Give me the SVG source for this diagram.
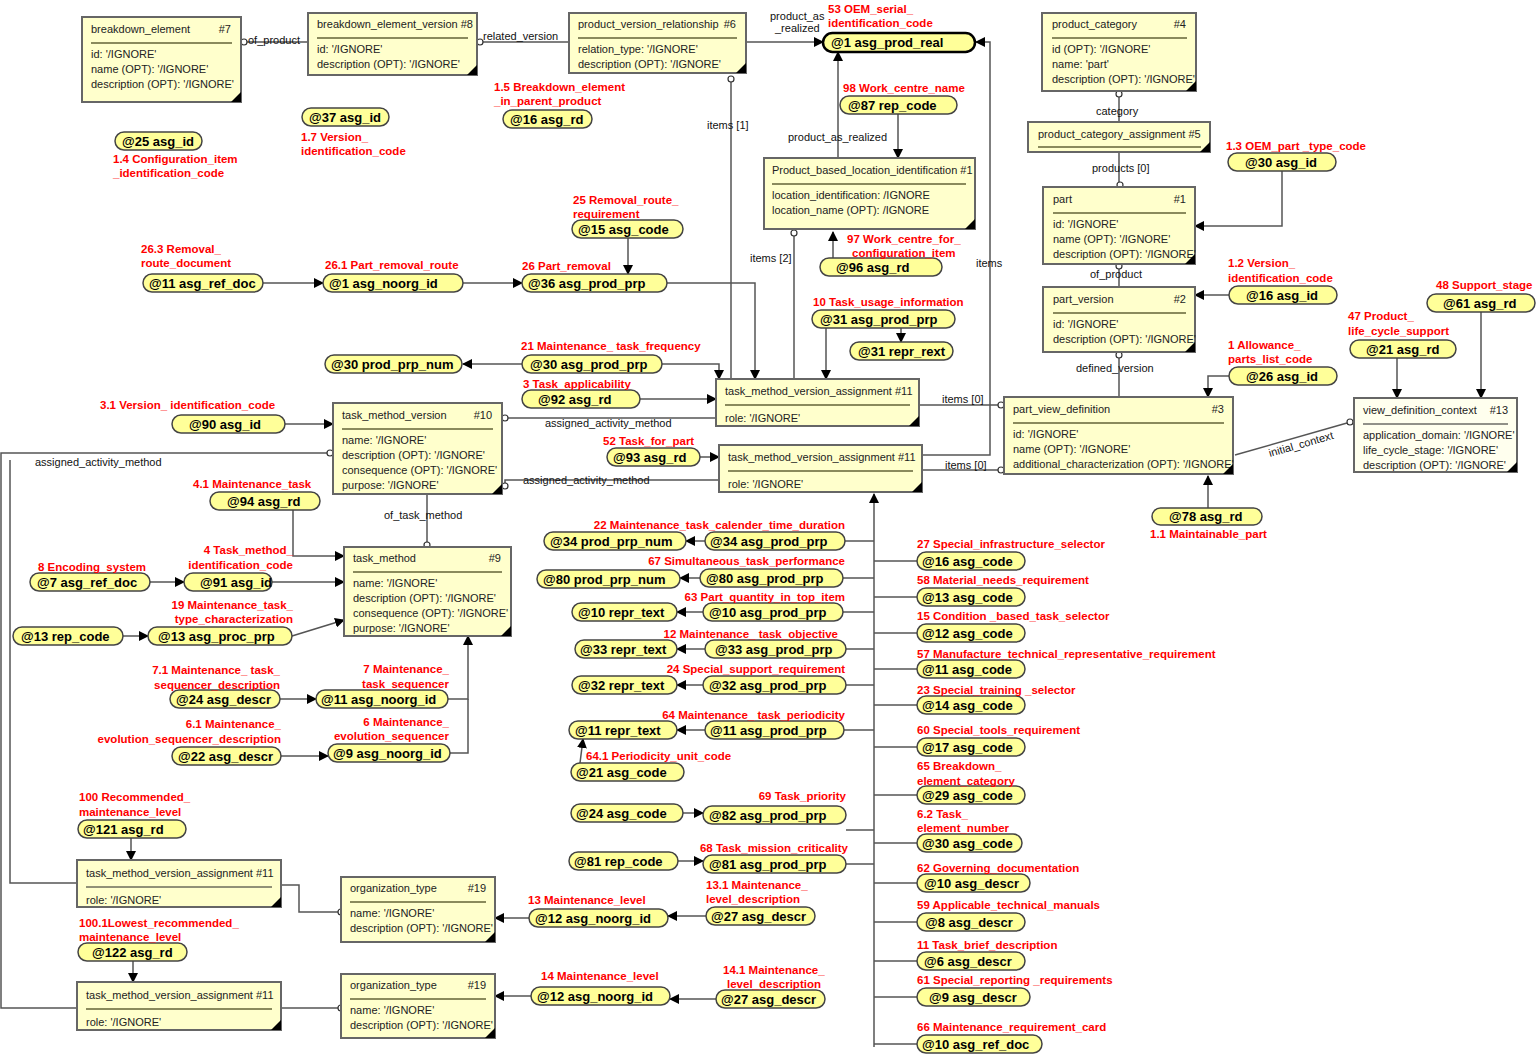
<svg xmlns="http://www.w3.org/2000/svg" width="1538" height="1055" viewBox="0 0 1538 1055">
<style>
.b rect{fill:#ffffcc;stroke:#666;stroke-width:2}
.b text{font:11px "Liberation Sans",Arial,sans-serif;fill:#222}
.b line{stroke:#8a8a5c;stroke-width:2}
.b polygon{fill:#000}
.p rect{fill:#ffff99;stroke:#444;stroke-width:1.5}
.p text{font:bold 13px "Liberation Sans",Arial,sans-serif;fill:#000}
.r{font:bold 11.5px "Liberation Sans",Arial,sans-serif;fill:#ff0000}
.e{text-anchor:end}
.c path{fill:none;stroke:#555;stroke-width:1.5}
.c .a{marker-end:url(#ar)}
.c circle{fill:#fff;stroke:#333;stroke-width:1.2}
.l{font:11px "Liberation Sans",Arial,sans-serif;fill:#111}
</style>
<defs>
<marker id="ar" markerUnits="userSpaceOnUse" markerWidth="10" markerHeight="10" refX="9" refY="5" orient="auto"><path d="M0,0 L10,5 L0,10 Z" fill="#000"/></marker>
</defs>
<rect width="1538" height="1055" fill="#fff"/>

<g class="c" id="connectors">
<path d="M244,42 H308"/><circle cx="244" cy="42" r="3"/>
<path d="M480,42 H569"/><circle cx="480" cy="42" r="3"/>
<path class="a" d="M746,42 H823"/>
<path class="a" d="M922,455 H990 V42 H976"/>
<path d="M731,79 V379"/><circle cx="731" cy="79" r="3"/>
<path class="a" d="M838,158 V52"/>
<path class="a" d="M898,114 V158"/>
<path d="M794,233 V379"/><circle cx="794" cy="233" r="3"/>
<path class="a" d="M833,258 V232"/>
<path class="a" d="M628,238 V274"/>
<path class="a" d="M263,283 H323"/>
<path class="a" d="M463,283 H522"/>
<path class="a" d="M667,283 H755 V379"/>
<path class="a" d="M522,364 H463"/>
<path class="a" d="M662,364 H719 V379"/>
<path class="a" d="M640,399 H716"/>
<path d="M716,418 H505"/><circle cx="505" cy="418" r="3"/>
<path class="a" d="M285,424 H333"/>
<path class="a" d="M700,457 H719"/>
<path d="M719,480 H505 V486"/><circle cx="505" cy="486" r="3"/>
<path d="M919,405 H1001"/><circle cx="1001" cy="405" r="3"/>
<path d="M922,470 H1001"/><circle cx="1001" cy="470" r="3"/>
<path class="a" d="M826,328 V379"/>
<path class="a" d="M901,328 V342"/>
<path d="M330,453 H1 V1008 H77"/><circle cx="330" cy="453" r="3"/>
<path d="M10,460 V883 H77"/>
<path d="M427,494 V545"/><circle cx="427" cy="545" r="3"/>
<path class="a" d="M293,510 V556 H344"/>
<path class="a" d="M150,582 H184"/>
<path class="a" d="M272,582 H344"/>
<path class="a" d="M123,636 H148"/>
<path class="a" d="M292,636 L344,620"/>
<path class="a" d="M448,699 H468 V636"/>
<path d="M450,753 H468 V699"/>
<path class="a" d="M280,699 H316"/>
<path class="a" d="M281,756 H328"/>
<path class="a" d="M131,838 V860"/>
<path class="a" d="M133,961 V982"/>
<path d="M281,885 H299 V912 H338"/><circle cx="341" cy="912" r="3"/>
<path d="M281,1008 H338"/><circle cx="341" cy="1008" r="3"/>
<path class="a" d="M529,918 H495"/>
<path class="a" d="M706,916 H668"/>
<path class="a" d="M531,996 H495"/>
<path class="a" d="M716,999 H670"/>
<path d="M1119,97 V122"/><circle cx="1119" cy="94" r="3"/>
<path d="M1119,152 V182"/><circle cx="1120" cy="185" r="3"/>
<path class="a" d="M1282,171 V226 H1195"/>
<path d="M1119,269 V287"/><circle cx="1119" cy="266" r="3"/>
<path class="a" d="M1229,295 H1195"/>
<path d="M1119,358 V397"/><circle cx="1119" cy="355" r="3"/>
<path class="a" d="M1229,376 H1208 V397"/>
<path class="a" d="M1208,508 V476"/>
<path d="M1235,455 L1347,423"/><circle cx="1350" cy="422" r="3"/>
<path class="a" d="M1397,358 V398"/>
<path class="a" d="M1481,312 V398"/>
<path class="a" d="M874,1047 V494"/>
<path d="M845,541 H874 M843,578 H874 M843,612 H874 M846,649 H874 M846,685 H874 M844,730 H874 M846,830 H874 M846,864 H874"/>
<path d="M874,561 H917 M874,597 H917 M874,633 H917 M874,669 H917 M874,705 H917 M874,747 H917 M874,795 H917 M874,843 H917 M874,883 H917 M874,922 H917 M874,961 H917 M874,997 H917 M874,1044 H917"/>
<path class="a" d="M705,541 H686"/>
<path class="a" d="M700,578 H680"/>
<path class="a" d="M703,612 H677"/>
<path class="a" d="M705,649 H677"/>
<path class="a" d="M703,685 H677"/>
<path class="a" d="M705,730 H677"/>
<path class="a" d="M580,763 L583,739"/>
<path class="a" d="M683,813 H703"/>
<path class="a" d="M678,861 H703"/>
</g>

<g id="edge-labels">
<text class="l" x="248" y="44">of_product</text>
<text class="l" x="483" y="40">related_version</text>
<text class="l" x="770" y="20">product_as</text>
<text class="l" x="775" y="32">_realized</text>
<text class="l" x="707" y="129">items [1]</text>
<text class="l" x="788" y="141">product_as_realized</text>
<text class="l" x="750" y="262">items [2]</text>
<text class="l" x="976" y="267">items</text>
<text class="l" x="1096" y="115">category</text>
<text class="l" x="1092" y="172">products [0]</text>
<text class="l" x="1090" y="278">of_product</text>
<text class="l" x="1076" y="372">defined_version</text>
<text class="l" x="942" y="403">items [0]</text>
<text class="l" x="945" y="469">items [0]</text>
<text class="l" x="545" y="427">assigned_activity_method</text>
<text class="l" x="523" y="484">assigned_activity_method</text>
<text class="l" x="35" y="466">assigned_activity_method</text>
<text class="l" x="384" y="519">of_task_method</text>
<text class="l" transform="translate(1270,457) rotate(-16)">initial_context</text>
</g>

<g class="b" id="n7"><rect x="82" y="17" width="159" height="85"/><text x="91" y="33">breakdown_element</text><text x="231" y="33" class="e" text-anchor="end">#7</text><line x1="91" y1="43" x2="232" y2="43"/><text x="91" y="58">id: '/IGNORE'</text><text x="91" y="73">name (OPT): '/IGNORE'</text><text x="91" y="88">description (OPT): '/IGNORE'</text><polygon points="241,92 241,102 231,102"/></g>
<g class="b" id="n8"><rect x="308" y="13" width="169" height="62"/><text x="317" y="28">breakdown_element_version #8</text><line x1="317" y1="38" x2="468" y2="38"/><text x="317" y="53">id: '/IGNORE'</text><text x="317" y="68">description (OPT): '/IGNORE'</text><polygon points="477,65 477,75 467,75"/></g>
<g class="b" id="n6"><rect x="569" y="13" width="177" height="60"/><text x="578" y="28">product_version_relationship</text><text x="736" y="28" text-anchor="end">#6</text><line x1="578" y1="38" x2="737" y2="38"/><text x="578" y="53">relation_type: '/IGNORE'</text><text x="578" y="68">description (OPT): '/IGNORE'</text><polygon points="746,63 746,73 736,73"/></g>
<g class="b" id="n4"><rect x="1042" y="13" width="154" height="78"/><text x="1052" y="28">product_category</text><text x="1186" y="28" text-anchor="end">#4</text><line x1="1052" y1="38" x2="1187" y2="38"/><text x="1052" y="53">id (OPT): '/IGNORE'</text><text x="1052" y="68">name: 'part'</text><text x="1052" y="83">description (OPT): '/IGNORE'</text><polygon points="1196,81 1196,91 1186,91"/></g>
<g class="b" id="n5"><rect x="1028" y="122" width="182" height="30"/><text x="1038" y="138">product_category_assignment  #5</text><line x1="1038" y1="147" x2="1201" y2="147"/><polygon points="1210,142 1210,152 1200,152"/></g>
<g class="b" id="n1"><rect x="1043" y="187" width="152" height="77"/><text x="1053" y="203">part</text><text x="1186" y="203" text-anchor="end">#1</text><line x1="1053" y1="213" x2="1186" y2="213"/><text x="1053" y="228">id: '/IGNORE'</text><text x="1053" y="243">name (OPT): '/IGNORE'</text><text x="1053" y="258">description (OPT): '/IGNORE'</text><polygon points="1195,254 1195,264 1185,264"/></g>
<g class="b" id="n2"><rect x="1043" y="287" width="152" height="65"/><text x="1053" y="303">part_version</text><text x="1186" y="303" text-anchor="end">#2</text><line x1="1053" y1="313" x2="1186" y2="313"/><text x="1053" y="328">id: '/IGNORE'</text><text x="1053" y="343">description (OPT): '/IGNORE'</text><polygon points="1195,342 1195,352 1185,352"/></g>
<g class="b" id="npbl"><rect x="764" y="158" width="211" height="71"/><text x="772" y="174">Product_based_location_identification #1</text><line x1="772" y1="184" x2="966" y2="184"/><text x="772" y="199">location_identification: /IGNORE</text><text x="772" y="214">location_name (OPT): /IGNORE</text><polygon points="975,219 975,229 965,229"/></g>
<g class="b" id="n11a"><rect x="716" y="379" width="203" height="47"/><text x="725" y="395">task_method_version_assignment #11</text><line x1="725" y1="405" x2="910" y2="405"/><text x="725" y="422">role: '/IGNORE'</text><polygon points="919,416 919,426 909,426"/></g>
<g class="b" id="n11b"><rect x="719" y="445" width="203" height="47"/><text x="728" y="461">task_method_version_assignment #11</text><line x1="728" y1="471" x2="913" y2="471"/><text x="728" y="488">role: '/IGNORE'</text><polygon points="922,482 922,492 912,492"/></g>
<g class="b" id="n10"><rect x="333" y="403" width="169" height="91"/><text x="342" y="419">task_method_version</text><text x="492" y="419" text-anchor="end">#10</text><line x1="342" y1="429" x2="493" y2="429"/><text x="342" y="444">name: '/IGNORE'</text><text x="342" y="459">description (OPT): '/IGNORE'</text><text x="342" y="474">consequence (OPT): '/IGNORE'</text><text x="342" y="489">purpose: '/IGNORE'</text><polygon points="502,484 502,494 492,494"/></g>
<g class="b" id="n3"><rect x="1004" y="397" width="229" height="77"/><text x="1013" y="413">part_view_definition</text><text x="1224" y="413" text-anchor="end">#3</text><line x1="1013" y1="423" x2="1224" y2="423"/><text x="1013" y="438">id: '/IGNORE'</text><text x="1013" y="453">name (OPT): '/IGNORE'</text><text x="1013" y="468">additional_characterization (OPT): '/IGNORE'</text><polygon points="1233,464 1233,474 1223,474"/></g>
<g class="b" id="n13"><rect x="1354" y="398" width="163" height="74" style="fill:#ffffee"/><text x="1363" y="414">view_definition_context</text><text x="1508" y="414" text-anchor="end">#13</text><line x1="1363" y1="424" x2="1508" y2="424" style="stroke:#222;stroke-width:1"/><text x="1363" y="439">application_domain: '/IGNORE'</text><text x="1363" y="454">life_cycle_stage: '/IGNORE'</text><text x="1363" y="469">description (OPT): '/IGNORE'</text><polygon points="1517,462 1517,472 1507,472"/></g>
<g class="b" id="n9"><rect x="344" y="547" width="167" height="89"/><text x="353" y="562">task_method</text><text x="501" y="562" text-anchor="end">#9</text><line x1="353" y1="572" x2="502" y2="572"/><text x="353" y="587">name: '/IGNORE'</text><text x="353" y="602">description (OPT): '/IGNORE'</text><text x="353" y="617">consequence (OPT): '/IGNORE'</text><text x="353" y="632">purpose: '/IGNORE'</text><polygon points="511,626 511,636 501,636"/></g>
<g class="b" id="n11c"><rect x="77" y="860" width="204" height="47"/><text x="86" y="877">task_method_version_assignment #11</text><line x1="86" y1="887" x2="272" y2="887" style="stroke:#222;stroke-width:1"/><text x="86" y="904">role: '/IGNORE'</text><polygon points="281,897 281,907 271,907"/></g>
<g class="b" id="n19a"><rect x="341" y="877" width="154" height="65"/><text x="350" y="892">organization_type</text><text x="486" y="892" text-anchor="end">#19</text><line x1="350" y1="902" x2="486" y2="902"/><text x="350" y="917">name: '/IGNORE'</text><text x="350" y="932">description (OPT): '/IGNORE'</text><polygon points="495,932 495,942 485,942"/></g>
<g class="b" id="n11d"><rect x="77" y="982" width="204" height="48"/><text x="86" y="999">task_method_version_assignment #11</text><line x1="86" y1="1009" x2="272" y2="1009"/><text x="86" y="1026">role: '/IGNORE'</text><polygon points="281,1020 281,1030 271,1030"/></g>
<g class="b" id="n19b"><rect x="341" y="974" width="154" height="64"/><text x="350" y="989">organization_type</text><text x="486" y="989" text-anchor="end">#19</text><line x1="350" y1="999" x2="486" y2="999"/><text x="350" y="1014">name: '/IGNORE'</text><text x="350" y="1029">description (OPT): '/IGNORE'</text><polygon points="495,1028 495,1038 485,1038"/></g>

<g class="p" id="p1"><rect x="115" y="132" width="87" height="18" rx="9"/><text x="122" y="146">@25 asg_id</text></g>
<g class="p" id="p2"><rect x="302" y="108" width="87" height="18" rx="9"/><text x="309" y="122">@37 asg_id</text></g>
<g class="p" id="p3"><rect x="503" y="110" width="89" height="18" rx="9"/><text x="510" y="124">@16 asg_rd</text></g>
<g class="p" id="p4"><rect x="823" y="33" width="152" height="19" rx="9.5" style="stroke-width:2.5;stroke:#000"/><text x="831" y="47">@1 asg_prod_real</text></g>
<g class="p" id="p5"><rect x="840" y="96" width="117" height="18" rx="9"/><text x="848" y="110">@87 rep_code</text></g>
<g class="p" id="p6"><rect x="820" y="258" width="122" height="18" rx="9"/><text x="836" y="272">@96 asg_rd</text></g>
<g class="p" id="p7"><rect x="1228" y="153" width="108" height="18" rx="9"/><text x="1245" y="167">@30 asg_id</text></g>
<g class="p" id="p8"><rect x="1229" y="286" width="108" height="18" rx="9"/><text x="1246" y="300">@16 asg_id</text></g>
<g class="p" id="p9"><rect x="1427" y="294" width="108" height="18" rx="9"/><text x="1443" y="308">@61 asg_rd</text></g>
<g class="p" id="p10"><rect x="1350" y="340" width="106" height="18" rx="9"/><text x="1366" y="354">@21 asg_rd</text></g>
<g class="p" id="p11"><rect x="1229" y="367" width="108" height="18" rx="9"/><text x="1246" y="381">@26 asg_id</text></g>
<g class="p" id="p12"><rect x="1152" y="508" width="110" height="17" rx="8.5"/><text x="1169" y="521">@78 asg_rd</text></g>
<g class="p" id="p13"><rect x="812" y="310" width="143" height="18" rx="9"/><text x="820" y="324">@31 asg_prod_prp</text></g>
<g class="p" id="p14"><rect x="850" y="342" width="103" height="18" rx="9"/><text x="858" y="356">@31 repr_rext</text></g>
<g class="p" id="p15"><rect x="572" y="220" width="111" height="18" rx="9"/><text x="578" y="234">@15 asg_code</text></g>
<g class="p" id="p16"><rect x="143" y="274" width="120" height="18" rx="9"/><text x="149" y="288">@11 asg_ref_doc</text></g>
<g class="p" id="p17"><rect x="323" y="274" width="140" height="18" rx="9"/><text x="329" y="288">@1 asg_noorg_id</text></g>
<g class="p" id="p18"><rect x="522" y="274" width="145" height="18" rx="9"/><text x="528" y="288">@36 asg_prod_prp</text></g>
<g class="p" id="p19"><rect x="325" y="355" width="137" height="18" rx="9"/><text x="331" y="369">@30 prod_prp_num</text></g>
<g class="p" id="p20"><rect x="522" y="355" width="140" height="18" rx="9"/><text x="530" y="369">@30 asg_prod_prp</text></g>
<g class="p" id="p21"><rect x="522" y="390" width="118" height="18" rx="9"/><text x="538" y="404">@92 asg_rd</text></g>
<g class="p" id="p22"><rect x="172" y="415" width="113" height="18" rx="9"/><text x="189" y="429">@90 asg_id</text></g>
<g class="p" id="p23"><rect x="607" y="448" width="93" height="18" rx="9"/><text x="613" y="462">@93 asg_rd</text></g>
<g class="p" id="p24"><rect x="210" y="492" width="110" height="18" rx="9"/><text x="227" y="506">@94 asg_rd</text></g>
<g class="p" id="p25"><rect x="30" y="573" width="120" height="18" rx="9"/><text x="37" y="587">@7 asg_ref_doc</text></g>
<g class="p" id="p26"><rect x="184" y="573" width="88" height="18" rx="9"/><text x="200" y="587">@91 asg_id</text></g>
<g class="p" id="p27"><rect x="13" y="627" width="110" height="18" rx="9"/><text x="21" y="641">@13 rep_code</text></g>
<g class="p" id="p28"><rect x="148" y="627" width="144" height="18" rx="9"/><text x="158" y="641">@13 asg_proc_prp</text></g>
<g class="p" id="p29"><rect x="170" y="690" width="110" height="18" rx="9"/><text x="176" y="704">@24 asg_descr</text></g>
<g class="p" id="p30"><rect x="316" y="690" width="132" height="18" rx="9"/><text x="321" y="704">@11 asg_noorg_id</text></g>
<g class="p" id="p31"><rect x="172" y="747" width="109" height="18" rx="9"/><text x="178" y="761">@22 asg_descr</text></g>
<g class="p" id="p32"><rect x="328" y="744" width="122" height="18" rx="9"/><text x="333" y="758">@9 asg_noorg_id</text></g>
<g class="p" id="p33"><rect x="78" y="820" width="108" height="18" rx="9"/><text x="83" y="834">@121 asg_rd</text></g>
<g class="p" id="p34"><rect x="78" y="943" width="109" height="18" rx="9"/><text x="92" y="957">@122 asg_rd</text></g>
<g class="p" id="p35"><rect x="529" y="909" width="139" height="18" rx="9"/><text x="535" y="923">@12 asg_noorg_id</text></g>
<g class="p" id="p36"><rect x="706" y="907" width="109" height="18" rx="9"/><text x="711" y="921">@27 asg_descr</text></g>
<g class="p" id="p37"><rect x="531" y="987" width="139" height="18" rx="9"/><text x="537" y="1001">@12 asg_noorg_id</text></g>
<g class="p" id="p38"><rect x="716" y="990" width="109" height="18" rx="9"/><text x="721" y="1004">@27 asg_descr</text></g>
<g class="p" id="p39"><rect x="544" y="532" width="142" height="18" rx="9"/><text x="550" y="546">@34 prod_prp_num</text></g>
<g class="p" id="p40"><rect x="705" y="532" width="140" height="18" rx="9"/><text x="710" y="546">@34 asg_prod_prp</text></g>
<g class="p" id="p41"><rect x="537" y="570" width="143" height="18" rx="9"/><text x="543" y="584">@80 prod_prp_num</text></g>
<g class="p" id="p42"><rect x="700" y="569" width="143" height="18" rx="9"/><text x="706" y="583">@80 asg_prod_prp</text></g>
<g class="p" id="p43"><rect x="572" y="603" width="105" height="18" rx="9"/><text x="578" y="617">@10 repr_text</text></g>
<g class="p" id="p44"><rect x="703" y="603" width="140" height="18" rx="9"/><text x="709" y="617">@10 asg_prod_prp</text></g>
<g class="p" id="p45"><rect x="575" y="640" width="102" height="18" rx="9"/><text x="580" y="654">@33 repr_text</text></g>
<g class="p" id="p46"><rect x="705" y="640" width="141" height="18" rx="9"/><text x="715" y="654">@33 asg_prod_prp</text></g>
<g class="p" id="p47"><rect x="572" y="676" width="105" height="18" rx="9"/><text x="578" y="690">@32 repr_text</text></g>
<g class="p" id="p48"><rect x="703" y="676" width="143" height="18" rx="9"/><text x="709" y="690">@32 asg_prod_prp</text></g>
<g class="p" id="p49"><rect x="569" y="721" width="108" height="18" rx="9"/><text x="575" y="735">@11 repr_text</text></g>
<g class="p" id="p50"><rect x="705" y="721" width="139" height="18" rx="9"/><text x="710" y="735">@11 asg_prod_prp</text></g>
<g class="p" id="p51"><rect x="571" y="763" width="113" height="18" rx="9"/><text x="576" y="777">@21 asg_code</text></g>
<g class="p" id="p52"><rect x="571" y="804" width="112" height="18" rx="9"/><text x="576" y="818">@24 asg_code</text></g>
<g class="p" id="p53"><rect x="703" y="806" width="143" height="18" rx="9"/><text x="709" y="820">@82 asg_prod_prp</text></g>
<g class="p" id="p54"><rect x="569" y="852" width="109" height="18" rx="9"/><text x="574" y="866">@81 rep_code</text></g>
<g class="p" id="p55"><rect x="703" y="855" width="143" height="18" rx="9"/><text x="709" y="869">@81 asg_prod_prp</text></g>
<g class="p" id="p56"><rect x="917" y="552" width="108" height="18" rx="9"/><text x="922" y="566">@16 asg_code</text></g>
<g class="p" id="p57"><rect x="917" y="588" width="108" height="18" rx="9"/><text x="922" y="602">@13 asg_code</text></g>
<g class="p" id="p58"><rect x="917" y="624" width="108" height="18" rx="9"/><text x="922" y="638">@12 asg_code</text></g>
<g class="p" id="p59"><rect x="917" y="660" width="108" height="18" rx="9"/><text x="922" y="674">@11 asg_code</text></g>
<g class="p" id="p60"><rect x="917" y="696" width="108" height="18" rx="9"/><text x="922" y="710">@14 asg_code</text></g>
<g class="p" id="p61"><rect x="917" y="738" width="108" height="18" rx="9"/><text x="922" y="752">@17 asg_code</text></g>
<g class="p" id="p62"><rect x="917" y="786" width="108" height="18" rx="9"/><text x="922" y="800">@29 asg_code</text></g>
<g class="p" id="p63"><rect x="917" y="834" width="105" height="18" rx="9"/><text x="922" y="848">@30 asg_code</text></g>
<g class="p" id="p64"><rect x="917" y="874" width="113" height="18" rx="9"/><text x="924" y="888">@10 asg_descr</text></g>
<g class="p" id="p65"><rect x="917" y="913" width="108" height="18" rx="9"/><text x="925" y="927">@8 asg_descr</text></g>
<g class="p" id="p66"><rect x="917" y="952" width="108" height="18" rx="9"/><text x="924" y="966">@6 asg_descr</text></g>
<g class="p" id="p67"><rect x="917" y="988" width="113" height="18" rx="9"/><text x="929" y="1002">@9 asg_descr</text></g>
<g class="p" id="p68"><rect x="917" y="1035" width="125" height="18" rx="9"/><text x="922" y="1049">@10 asg_ref_doc</text></g>

<g id="red-labels">
<text class="r" x="113" y="163">1.4 Configuration_item</text><text class="r" x="113" y="177">_identification_code</text>
<text class="r" x="301" y="141">1.7 Version_</text><text class="r" x="301" y="155">identification_code</text>
<text class="r" x="494" y="91">1.5 Breakdown_element</text><text class="r" x="494" y="105">_in_parent_product</text>
<text class="r" x="828" y="13">53 OEM_serial_</text><text class="r" x="828" y="27">identification_code</text>
<text class="r" x="843" y="92">98 Work_centre_name</text>
<text class="r" x="847" y="243">97 Work_centre_for_</text><text class="r" x="852" y="257">configuration_item</text>
<text class="r" x="813" y="306">10 Task_usage_information</text>
<text class="r" x="1226" y="150">1.3 OEM_part _type_code</text>
<text class="r" x="1228" y="267">1.2 Version_</text><text class="r" x="1228" y="282">identification_code</text>
<text class="r" x="1436" y="289">48 Support_stage</text>
<text class="r" x="1348" y="320">47 Product_</text><text class="r" x="1348" y="335">life_cycle_support</text>
<text class="r" x="1228" y="349">1 Allowance_</text><text class="r" x="1228" y="363">parts_list_code</text>
<text class="r" x="1150" y="538">1.1 Maintainable_part</text>
<text class="r" x="573" y="204">25 Removal_route_</text><text class="r" x="573" y="218">requirement</text>
<text class="r" x="141" y="253">26.3 Removal_</text><text class="r" x="141" y="267">route_document</text>
<text class="r" x="325" y="269">26.1 Part_removal_route</text>
<text class="r" x="522" y="270">26 Part_removal</text>
<text class="r" x="521" y="350">21 Maintenance_ task_frequency</text>
<text class="r" x="523" y="388">3 Task_applicability</text>
<text class="r" x="100" y="409">3.1 Version_ identification_code</text>
<text class="r" x="603" y="445">52 Task_for_part</text>
<text class="r" x="193" y="488">4.1 Maintenance_task</text>
<text class="r" x="38" y="571">8 Encoding_system</text>
<text class="r e" x="293" y="554" text-anchor="end">4 Task_method_</text><text class="r" x="293" y="569" text-anchor="end">identification_code</text>
<text class="r" x="293" y="609" text-anchor="end">19 Maintenance_task_</text><text class="r" x="293" y="623" text-anchor="end">type_characterization</text>
<text class="r" x="280" y="674" text-anchor="end">7.1 Maintenance_ task_</text><text class="r" x="280" y="689" text-anchor="end">sequencer_description</text>
<text class="r" x="449" y="673" text-anchor="end">7 Maintenance_</text><text class="r" x="449" y="688" text-anchor="end">task_sequencer</text>
<text class="r" x="281" y="728" text-anchor="end">6.1 Maintenance_</text><text class="r" x="281" y="743" text-anchor="end">evolution_sequencer_description</text>
<text class="r" x="449" y="726" text-anchor="end">6 Maintenance_</text><text class="r" x="449" y="740" text-anchor="end">evolution_sequencer</text>
<text class="r" x="79" y="801">100 Recommended_</text><text class="r" x="79" y="816">maintenance_level</text>
<text class="r" x="79" y="927">100.1Lowest_recommended_</text><text class="r" x="79" y="941">maintenance_level</text>
<text class="r" x="528" y="904">13 Maintenance_level</text>
<text class="r" x="706" y="889">13.1 Maintenance_</text><text class="r" x="706" y="903">level_description</text>
<text class="r" x="541" y="980">14 Maintenance_level</text>
<text class="r" x="723" y="974">14.1 Maintenance_</text><text class="r" x="727" y="988">level_description</text>
<text class="r" x="845" y="529" text-anchor="end">22 Maintenance_task_calender_time_duration</text>
<text class="r" x="845" y="565" text-anchor="end">67 Simultaneous_task_performance</text>
<text class="r" x="845" y="601" text-anchor="end">63 Part_quantity_in_top_item</text>
<text class="r" x="838" y="638" text-anchor="end">12 Maintenance_ task_objective</text>
<text class="r" x="845" y="673" text-anchor="end">24 Special_support_requirement</text>
<text class="r" x="845" y="719" text-anchor="end">64 Maintenance_ task_periodicity</text>
<text class="r" x="586" y="760">64.1 Periodicity_unit_code</text>
<text class="r" x="846" y="800" text-anchor="end">69 Task_priority</text>
<text class="r" x="848" y="852" text-anchor="end">68 Task_mission_criticality</text>
<text class="r" x="917" y="548">27 Special_infrastructure_selector</text>
<text class="r" x="917" y="584">58 Material_needs_requirement</text>
<text class="r" x="917" y="620">15 Condition _based_task_selector</text>
<text class="r" x="917" y="658">57 Manufacture_technical_representative_requirement</text>
<text class="r" x="917" y="694">23 Special_training _selector</text>
<text class="r" x="917" y="734">60 Special_tools_requirement</text>
<text class="r" x="917" y="770">65 Breakdown_</text><text class="r" x="917" y="785">element_category</text>
<text class="r" x="917" y="818">6.2 Task_</text><text class="r" x="917" y="832">element_number</text>
<text class="r" x="917" y="872">62 Governing_documentation</text>
<text class="r" x="917" y="909">59 Applicable_technical_manuals</text>
<text class="r" x="917" y="949">11 Task_brief_description</text>
<text class="r" x="917" y="984">61 Special_reporting _requirements</text>
<text class="r" x="917" y="1031">66 Maintenance_requirement_card</text>
</g>
</svg>
